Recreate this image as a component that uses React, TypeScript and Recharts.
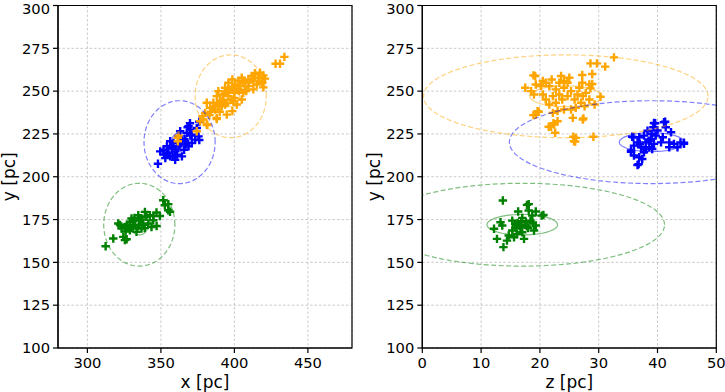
import React from 'react';
import { ScatterChart, Scatter, XAxis, YAxis, CartesianGrid, ReferenceArea } from 'recharts';

// ---------- data ----------
const xTicks = [300, 350, 400, 450];
const zTicks = [0, 10, 20, 30, 40, 50];
const yTicks = [100, 125, 150, 175, 200, 225, 250, 275, 300];

const orangeXY: [number, number][] = [
  [434, 270], [431, 266], [428, 266], [420.8, 257.3], [419.7, 259.2], [417.4, 260.7], [416.3, 257.8],
  [414, 259.8], [414, 260.4], [419, 254.9], [419.7, 252.2], [412.9, 255.9], [412.9, 251], [411.8, 258.8],
  [409.5, 256.8], [407.2, 254.9], [405, 257.8], [402.7, 255.9], [400.5, 253.9], [398.6, 256.8], [395.9, 254.9],
  [393.7, 252], [397.1, 251], [400, 249], [402.7, 251], [406, 249], [407.2, 252.9], [405, 245.1],
  [399.3, 244.1], [395.9, 247.1], [392.5, 248], [389.1, 250], [388, 247.1], [390.3, 244.1], [385.7, 243.2],
  [393.7, 242.2], [386.8, 239.3], [383.5, 240.2], [381.2, 243.2], [380.1, 237.3], [378.3, 235.4], [398.6, 238.3],
  [394.8, 236.3], [388, 234.4], [376.7, 232.4], [381.2, 230.5], [378.9, 233.4], [391.4, 241.2], [401.6, 242.2],
  [409.5, 252.9], [415.2, 253.9], [361.5, 222.7], [361.5, 220.7], [362, 224], [374.4, 226.6], [381.6, 230.2],
  [388, 233.7], [403, 250], [396, 250], [410, 255], [404, 253], [398, 245], [392, 245], [386, 241],
  [384, 238], [390, 238], [395, 243], [400, 246], [408, 250], [412, 257], [417, 256], [394, 249],
  [389, 242], [383, 236], [399, 252], [406, 256],
];

const blueXY: [number, number][] = [
  [348, 207.6], [353, 210.9], [349.5, 214.8], [351.8, 215.8], [355.2, 213.9], [357.5, 216.8], [354.1, 217.8],
  [359.7, 214.8], [362, 217.8], [358.6, 219.7], [356.3, 220.7], [364.3, 221.7], [363.1, 226.6], [367.6, 225.6],
  [368.8, 229.5], [371, 224.6], [373.3, 221.7], [375.6, 223.6], [374.4, 228.5], [376.1, 232.1], [366.5, 220.7],
  [360.9, 212.9], [364.3, 211.9], [356.3, 211.9], [368.8, 217.8], [371, 219.7], [365.8, 215.8], [369.9, 227.5],
  [362, 223.6], [359.7, 209.9], [376.1, 221.5], [369.8, 231.2], [368.2, 228.9], [352, 213], [357, 218],
  [360, 216], [363, 219], [366, 222], [358, 212], [354, 214], [367, 219], [370, 224],
];

const greenXY: [number, number][] = [
  [312.4, 159.4], [317.6, 163.9], [325.5, 163], [324.4, 164.9], [326.7, 163.5], [351.6, 186.3], [352.7, 183.4],
  [355, 180.4], [356.2, 179.6], [355, 184], [347, 179.1], [339.1, 179.5], [349.3, 177.1], [344.8, 174.6],
  [321, 172.7], [322.2, 171.8], [325.5, 170.7], [328.9, 173.6], [332.3, 171.7], [335.7, 174.6], [336.8, 169.7],
  [341.4, 172.7], [343.6, 170.7], [340.2, 176.6], [330, 175.6], [333.4, 167.8], [328.9, 168.8], [323.2, 169.7],
  [342.5, 177.5], [334.6, 177.5], [347.1, 171.2], [345, 177], [327, 172], [331, 174], [338, 172], [334, 170], [330, 170],
  [326, 168], [332, 176], [337, 175], [339, 170], [335, 172], [329, 171],
];

const orangeZY: [number, number][] = [
  [32.6, 269.7], [28.6, 266.2], [29.7, 266.2], [31.1, 264.3], [27.2, 259.4], [28.9, 260], [28.9, 254.2],
  [30.3, 246.7], [28.6, 251.6], [18.9, 259.2], [19.2, 258.8], [17.5, 252], [18.5, 250], [19, 248], [19.3, 253.9],
  [20.5, 255.9], [20.2, 252.9], [21, 254.9], [21.6, 252.9], [22, 256.8], [22.7, 251], [23.3, 254.9], [23.6, 258.8],
  [24.1, 255.9], [24.7, 254.9], [25, 257.8], [24.1, 252], [23.3, 248], [22.2, 247.1], [21, 245.1], [20.5, 248],
  [21.6, 242.2], [22.7, 243.2], [23.8, 245.1], [24.7, 247.1], [25.3, 250], [25.9, 245.1], [26.4, 248], [26.7, 252],
  [27.3, 247.1], [27.8, 249], [28.4, 245.1], [29.3, 242.2], [27.2, 254.9], [28.4, 253.9], [27, 243.2], [27.6, 241.2],
  [26.1, 240.2], [25.3, 239.3], [24.1, 239.3], [23, 238.3], [22.2, 237.3], [19.6, 238.3], [19.3, 236.3], [18.9, 236],
  [19.8, 238], [23, 232.4], [22.4, 230.5], [21.9, 229.1], [22.3, 231.2], [21.5, 229.2], [22.6, 225.7], [25.6, 234.4],
  [27.3, 233.4], [27.4, 234.1], [26.1, 222.7], [25.8, 220.7], [26, 220.5], [25.7, 223.4], [29.1, 223.4],
];

const blueZY: [number, number][] = [
  [39.4, 231.4], [39.3, 228.9], [41.1, 231.8], [41.4, 228.9], [39.6, 231.2], [41.3, 232.1], [38.3, 226.9],
  [37.7, 224], [36.9, 223.1], [35.9, 223.1], [35.7, 223.4], [36.6, 220.1], [36, 218.2], [37.2, 217.2], [38, 220.1],
  [38.9, 222.1], [39.7, 224], [38.6, 217.2], [39.4, 219.2], [40.6, 220.1], [40.9, 223.1], [42, 220.1], [42.8, 219.2],
  [43.9, 220.1], [44.5, 219.2], [44.5, 219.9], [42, 217.2], [43.4, 217.2], [35.5, 215.3], [35.5, 214.6], [36, 212.4],
  [36.9, 211.4], [37.4, 210.4], [36.6, 206.9], [36.8, 207.4], [37.7, 214.3], [39.1, 216.2], [42.3, 226], [38, 216],
  [37, 219], [38.5, 221], [39, 225], [40, 227],
];

const greenZY: [number, number][] = [
  [13.7, 186.1], [17.8, 183.6], [18.1, 184], [16.3, 179.7], [18.1, 180.3], [19.3, 179.7], [20.3, 177.3],
  [20.6, 177.7], [18.7, 177.3], [13.3, 173.4], [13.6, 171.5], [12.2, 169.6], [15.3, 174.4], [15.9, 171.5],
  [16.7, 170.5], [17.6, 173.4], [18.4, 174.4], [19.3, 171.5], [19, 168.6], [17, 167.6], [16.1, 166.6], [15.3, 168.6],
  [14.7, 165.7], [15.6, 164.7], [12.7, 163.7], [14.4, 162.7], [13.8, 158.9], [17.3, 163.7], [17.5, 172], [16.8, 174],
  [16.2, 173], [18, 170], [17, 176], [16, 170], [16.5, 171.5], [17.8, 171], [18.8, 173], [15.8, 172.5],
];

// group order: green, blue, orange
const groupColors = ['#008000', '#0000ff', '#ffa500'];
const centerX = [335.3, 362.7, 397.5];
const centerY = [172, 220.2, 247];
const centerZ = [17, 39, 24.4];
const outerRadius = [24.2, 24.2, 24.2];
const innerRadius = [6, 5.5, 6.1];

// ---------- helpers ----------
const toPts = (arr: [number, number][]) => arr.map(([x, y]) => ({ x, y }));

const ring = (cx: number, cy: number, r: number) => {
  const pts: { x: number; y: number }[] = [];
  for (let a = 0; a <= 360; a += 4) {
    const t = (a * Math.PI) / 180;
    pts.push({ x: cx + r * Math.cos(t), y: cy + r * Math.sin(t) });
  }
  return pts;
};

const plus = (color: string) => (props: any) => {
  const { cx, cy } = props;
  if (cx == null || cy == null) return <g />;
  const h = 4.2;
  return (
    <path
      d={`M${cx - h},${cy}H${cx + h}M${cx},${cy - h}V${cy + h}`}
      stroke={color}
      strokeWidth={2.4}
      fill="none"
    />
  );
};

const NoDot = () => <g />;

const FONT = 'DejaVu Sans';
const tickStyle = { fill: '#000', fontSize: 14.7, fontFamily: FONT };

interface PanelProps {
  left: number;
  width: number;
  yAxisWidth: number;
  rightMargin: number;
  xDomain: [number, number];
  xTicksArr: number[];
  xLabel: string;
  yLabelOffset: number;
  series: [number, number][][];
  centersH: number[];
}

const Panel = ({ left, width, yAxisWidth, rightMargin, xDomain, xTicksArr, xLabel, yLabelOffset, series, centersH }: PanelProps) => (
  <div style={{ position: 'absolute', left, top: 0, width, height: 392 }}>
    <ScatterChart width={width} height={392} margin={{ top: 5.5, right: rightMargin, bottom: 0, left: 0 }}>
      <CartesianGrid stroke="#bdbdbd" strokeWidth={0.8} strokeDasharray="2.5 2" />
      <XAxis
        type="number"
        dataKey="x"
        domain={xDomain}
        ticks={xTicksArr}
        allowDataOverflow
        height={44}
        tickSize={5}
        tickMargin={4.5}
        tick={tickStyle}
        axisLine={{ stroke: '#000', strokeWidth: 1.2 }}
        tickLine={{ stroke: '#000', strokeWidth: 1.2 }}
        label={{ value: xLabel, position: 'insideBottom', offset: 4, style: { fontSize: 17, fontFamily: FONT, fill: '#000' } }}
      />
      <YAxis
        type="number"
        dataKey="y"
        domain={[100, 300]}
        ticks={yTicks}
        allowDataOverflow
        width={yAxisWidth}
        tickSize={5}
        tickMargin={3}
        tick={tickStyle}
        axisLine={{ stroke: '#000', strokeWidth: 1.2 }}
        tickLine={{ stroke: '#000', strokeWidth: 1.2 }}
        label={{
          value: 'y [pc]',
          angle: -90,
          position: 'insideLeft',
          offset: yLabelOffset,
          style: { fontSize: 17, fontFamily: FONT, fill: '#000', textAnchor: 'middle' },
        }}
      />
      {series.map((s, i) => (
        <Scatter
          key={`pts${i}`}
          data={toPts(s)}
          shape={plus(groupColors[i])}
          fill={groupColors[i]}
          isAnimationActive={false}
        />
      ))}
      {centersH.map((c, i) => (
        <Scatter
          key={`outer${i}`}
          data={ring(c, centerY[i], outerRadius[i])}
          shape={NoDot}
          line={{ stroke: groupColors[i], strokeOpacity: 0.5, strokeWidth: 1.2, strokeDasharray: '5 2.5' }}
          lineType="joint"
          fill="none"
          isAnimationActive={false}
        />
      ))}
      {centersH.map((c, i) => (
        <Scatter
          key={`inner${i}`}
          data={ring(c, centerY[i], innerRadius[i])}
          shape={NoDot}
          line={{ stroke: groupColors[i], strokeOpacity: 0.5, strokeWidth: 1.2 }}
          lineType="joint"
          fill="none"
          isAnimationActive={false}
        />
      ))}
      <ReferenceArea
        x1={xDomain[0]}
        x2={xDomain[1]}
        y1={100}
        y2={300}
        fill="none"
        fillOpacity={0}
        stroke="#000"
        strokeWidth={1.2}
        ifOverflow="visible"
      />
    </ScatterChart>
  </div>
);

export default function App() {
  return (
    <div style={{ position: 'absolute', left: 0, top: 0, width: 725, height: 392, background: '#fff' }}>
      <Panel
        left={0}
        width={362}
        yAxisWidth={58}
        rightMargin={10}
        xDomain={[280, 480]}
        xTicksArr={xTicks}
        xLabel="x [pc]"
        yLabelOffset={8.5}
        series={[greenXY, blueXY, orangeXY]}
        centersH={centerX}
      />
      <Panel
        left={362}
        width={363}
        yAxisWidth={60.3}
        rightMargin={8.7}
        xDomain={[0, 50]}
        xTicksArr={zTicks}
        xLabel="z [pc]"
        yLabelOffset={11.7}
        series={[greenZY, blueZY, orangeZY]}
        centersH={centerZ}
      />
    </div>
  );
}
